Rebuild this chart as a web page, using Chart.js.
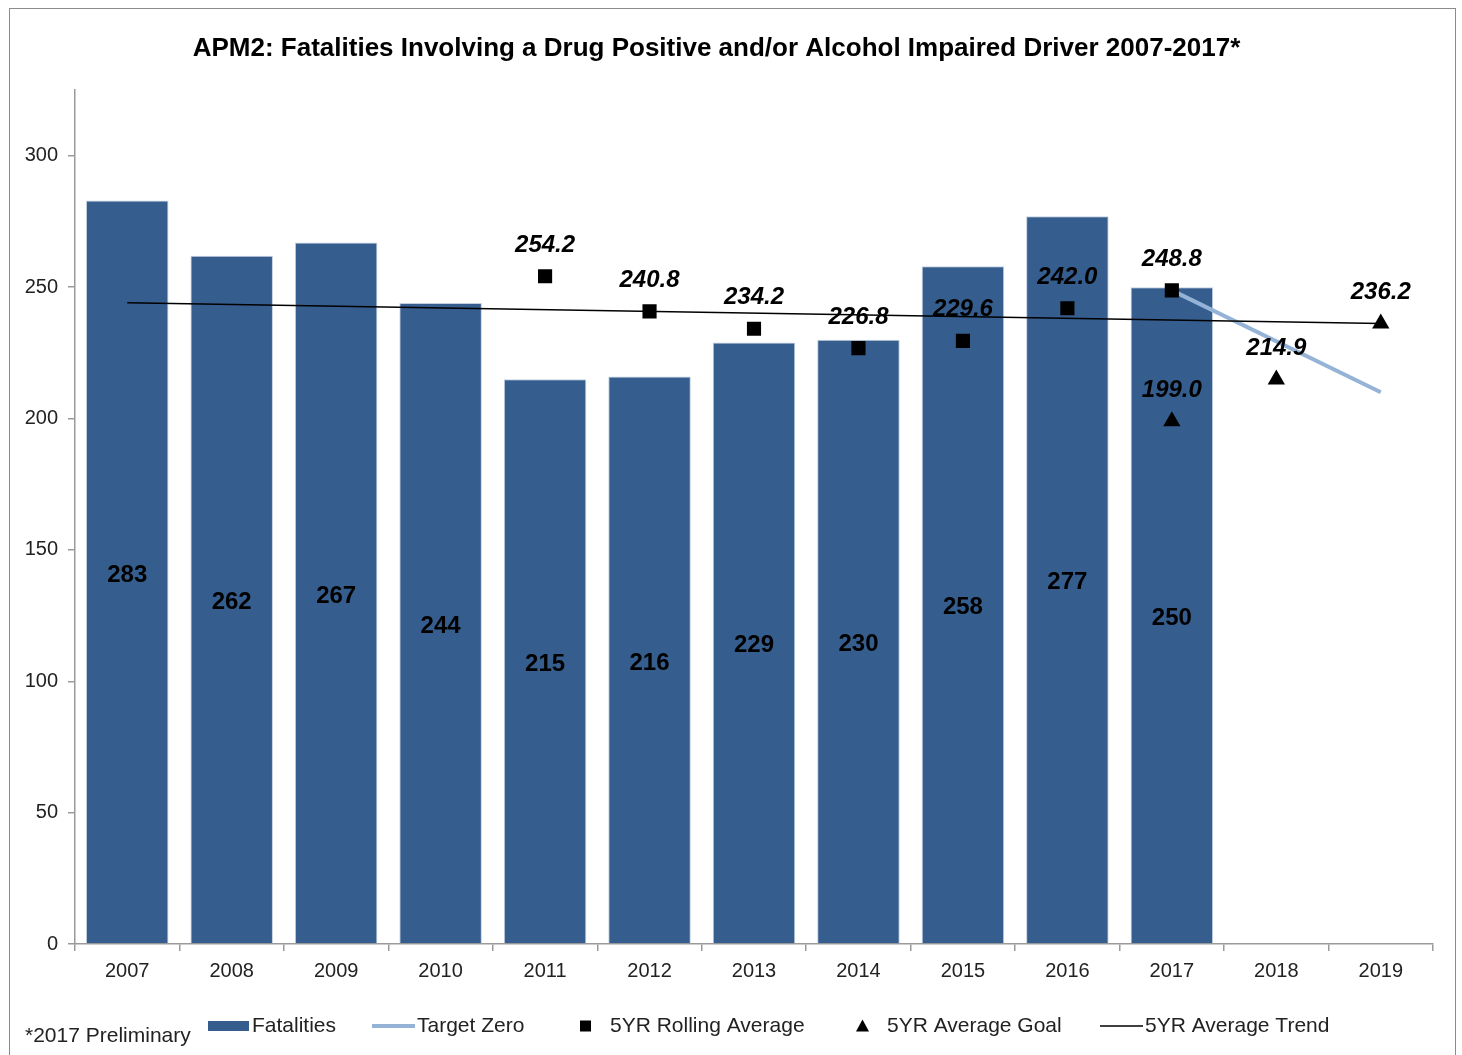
<!DOCTYPE html>
<html>
<head>
<meta charset="utf-8">
<script src="https://cdn.jsdelivr.net/npm/chart.js@4.4.1/dist/chart.umd.min.js"></script>
<style>
    html, body { margin: 0; padding: 0; background: #fff; }
    #wrap { position: relative; width: 1462px; height: 1055px; overflow: hidden; }
    #frame { position: absolute; left: 9px; top: 8px; width: 1445px; height: 1100px; border: 1px solid #8c8c8c; }
    #chart { position: absolute; left: 0; top: 0; }
</style>
</head>
<body>
<div id="wrap"><div id="frame"></div><canvas id="chart" width="1462" height="1055"></canvas></div>
<script>
const years = ['2007', '2008', '2009', '2010', '2011', '2012', '2013', '2014', '2015', '2016', '2017', '2018', '2019'];
const fatalities = [283, 262, 267, 244, 215, 216, 229, 230, 258, 277, 250, null, null];
const rollingAvg = [null, null, null, null, 254.2, 240.8, 234.2, 226.8, 229.6, 242.0, 248.8, null, null];
const avgGoal = [null, null, null, null, null, null, null, null, null, null, 199.0, 214.9, 236.2];
const targetZero = [null, null, null, null, null, null, null, null, null, null, 248.8, null, 210.0];
const avgTrend = [244.1, null, null, null, null, null, null, null, null, null, null, null, 236.2];
const yTicks = [0, 50, 100, 150, 200, 250, 300];

const titleText = 'APM2: Fatalities Involving a Drug Positive and/or Alcohol Impaired Driver 2007-2017*';
const footnote = '*2017 Preliminary';

const font = '"Liberation Sans", Arial, sans-serif';
const barColor = '#355e8e';
const targetColor = '#95b3d7';
const axisColor = '#9a9a9a';

// value labels: in the middle of bars, above the markers
const valueLabels = {
    id: 'valueLabels',
    afterDatasetsDraw(chart) {
        const ctx = chart.ctx;
        chart.data.datasets.forEach((ds, i) => {
            if (!ds.valueLabel) return;
            const meta = chart.getDatasetMeta(i);
            meta.data.forEach((el, j) => {
                const v = ds.data[j];
                if (v === null || v === undefined) return;
                ctx.save();
                ctx.fillStyle = '#000';
                ctx.textAlign = 'center';
                ctx.textBaseline = 'middle';
                if (ds.valueLabel === 'middle') {
                    ctx.font = 'bold 24px ' + font;
                    ctx.fillText(String(v), el.x, (el.y + el.base) / 2 + 3);
                } else {
                    ctx.font = 'italic bold 24px ' + font;
                    ctx.fillText(v.toFixed(1), el.x, el.y - 31);
                }
                ctx.restore();
            });
        });
    }
};

// legend row along the bottom, drawn like the spreadsheet one
const legendItems = [
    {kind: 'box', label: 'Fatalities', x: 208},
    {kind: 'line', label: 'Target Zero', x: 372, color: targetColor, width: 4},
    {kind: 'square', label: '5YR Rolling Average', x: 580},
    {kind: 'triangle', label: '5YR Average Goal', x: 856},
    {kind: 'line', label: '5YR Average Trend', x: 1100, color: '#000', width: 1.5},
];

const bottomLegend = {
    id: 'bottomLegend',
    afterDraw(chart) {
        const ctx = chart.ctx;
        const y = 1026;
        ctx.save();
        ctx.fillStyle = '#222';
        ctx.font = '21px ' + font;
        ctx.textBaseline = 'middle';
        ctx.textAlign = 'left';
        ctx.fillText(footnote, 25, 1036);

        legendItems.forEach(item => {
            let tx;
            ctx.fillStyle = '#000';
            if (item.kind === 'box') {
                ctx.fillStyle = barColor;
                ctx.fillRect(item.x, y - 5, 41, 10);
                tx = item.x + 44;
            } else if (item.kind === 'line') {
                ctx.strokeStyle = item.color;
                ctx.lineWidth = item.width;
                ctx.beginPath();
                ctx.moveTo(item.x, y);
                ctx.lineTo(item.x + 43, y);
                ctx.stroke();
                tx = item.x + 45;
            } else if (item.kind === 'square') {
                ctx.fillRect(item.x, y - 5.5, 11, 11);
                tx = item.x + 30;
            } else {
                ctx.beginPath();
                ctx.moveTo(item.x + 6.5, y - 6.5);
                ctx.lineTo(item.x + 13, y + 5.5);
                ctx.lineTo(item.x, y + 5.5);
                ctx.closePath();
                ctx.fill();
                tx = item.x + 31;
            }
            ctx.fillStyle = '#222';
            ctx.fillText(item.label, tx, y);
        });
        ctx.restore();
    }
};

new Chart(document.getElementById('chart'), {
    type: 'bar',
    data: {
        labels: years,
        datasets: [
            {
                type: 'line',
                label: 'Target Zero',
                data: targetZero,
                borderColor: targetColor,
                borderWidth: 4,
                pointRadius: 0,
                spanGaps: true,
                order: 3,
            },
            {
                type: 'line',
                label: '5YR Average Trend',
                data: avgTrend,
                borderColor: '#000',
                borderWidth: 1.5,
                pointRadius: 0,
                spanGaps: true,
                order: 2,
            },
            {
                type: 'line',
                label: '5YR Rolling Average',
                data: rollingAvg,
                showLine: false,
                pointStyle: 'rect',
                pointRadius: 10,
                pointHoverRadius: 10,
                pointBackgroundColor: '#000',
                pointBorderWidth: 0,
                valueLabel: 'above',
                order: 1,
            },
            {
                type: 'line',
                label: '5YR Average Goal',
                data: avgGoal,
                showLine: false,
                pointStyle: 'triangle',
                pointRadius: 10,
                pointHoverRadius: 10,
                pointBackgroundColor: '#000',
                pointBorderWidth: 0,
                valueLabel: 'above',
                order: 1,
            },
            {
                label: 'Fatalities',
                data: fatalities,
                backgroundColor: barColor,
                borderColor: '#c3cfdf',
                borderWidth: 1,
                barPercentage: 0.79,
                categoryPercentage: 1.0,
                valueLabel: 'middle',
                order: 10,
            },
        ]
    },
    options: {
        responsive: false,
        animation: false,
        layout: {padding: {left: 0, right: 29, top: 0, bottom: 71}},
        plugins: {
            legend: {display: false},
            tooltip: {enabled: false},
            title: {
                display: true,
                text: titleText,
                color: '#000',
                font: {family: '"Liberation Sans Narrow", "Arial Narrow", ' + font, size: 26, weight: 'bold', lineHeight: 1.2},
                padding: {top: 33, bottom: 26},
            },
        },
        scales: {
            x: {
                afterFit: s => { s.height = 40; },
                border: {color: axisColor, width: 1.5},
                grid: {offset: true, drawOnChartArea: false, tickLength: 7, color: axisColor, lineWidth: 1.5},
                ticks: {color: '#222', font: {family: font, size: 20}, padding: 8},
            },
            y: {
                min: 0,
                max: 325,
                afterBuildTicks: s => { s.ticks = yTicks.map(v => ({value: v})); },
                afterFit: s => { s.width = 75; },
                border: {color: axisColor, width: 1.5},
                grid: {drawOnChartArea: false, tickLength: 7, color: axisColor, lineWidth: 1.5},
                ticks: {color: '#222', font: {family: font, size: 20}, padding: 10},
            },
        },
    },
    plugins: [valueLabels, bottomLegend],
});
</script>
</body>
</html>
